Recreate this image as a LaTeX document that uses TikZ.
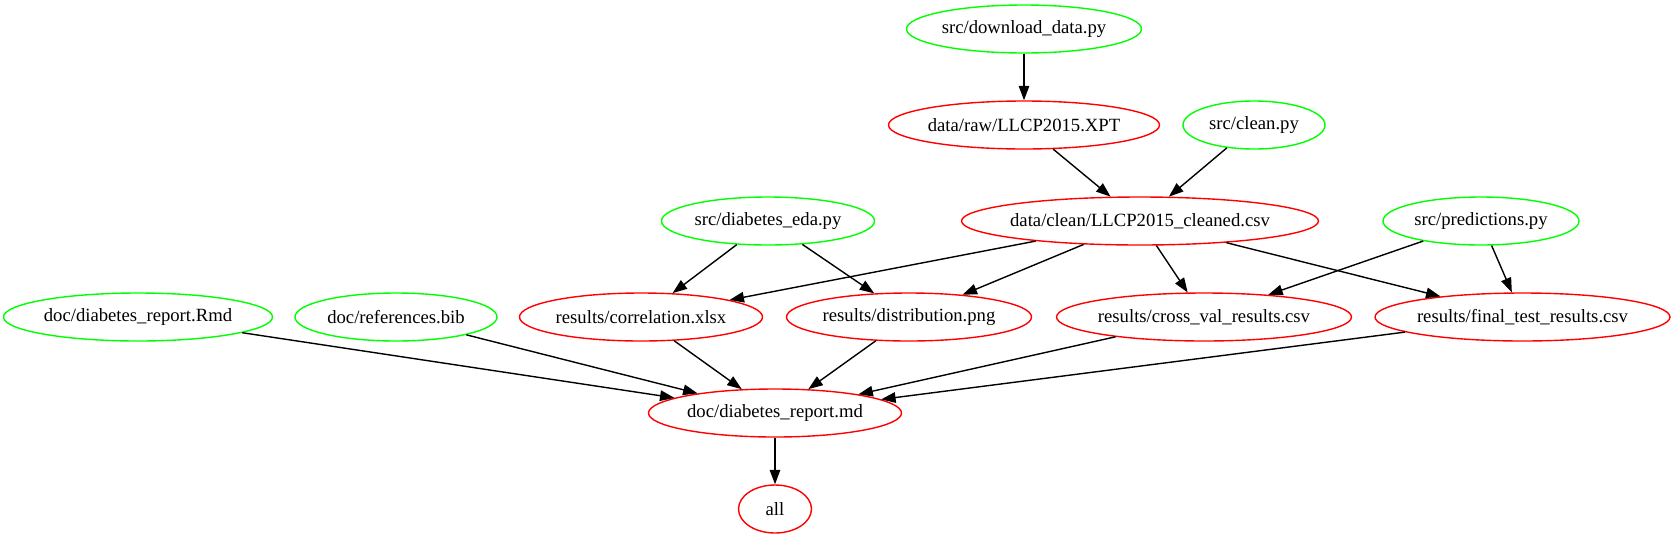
\documentclass[tikz,border=0pt]{standalone}
\usepackage{fontspec}
\setmainfont{Liberation Serif}
\usetikzlibrary{shapes.geometric,arrows.meta}
\definecolor{gvgreen}{RGB}{0,255,0}
\definecolor{gvred}{RGB}{255,0,0}
\newcommand{\lbl}[1]{\makebox[0pt]{#1}}
\tikzset{
  base/.style={ellipse, inner sep=0pt, minimum height=48pt, line width=1.4pt,
    font=\fontsize{18.67pt}{22pt}\selectfont},
  gnode/.style={base, draw=gvgreen},
  rnode/.style={base, draw=gvred},
  edge/.style={line width=1.4pt, -{Triangle[length=14.5pt,width=10.5pt]}}
}
\begin{document}
\begin{tikzpicture}[x=1pt,y=-1pt]
\useasboundingbox (0,0) rectangle (1675,539);
\node[gnode, minimum width=235pt] (dl) at (1024,29) {\lbl{src/download\_data.py}};
\node[rnode, minimum width=271pt] (raw) at (1024,125) {\lbl{data/raw/LLCP2015.XPT}};
\node[gnode, minimum width=142pt] (clean) at (1254,125) {\lbl{src/clean.py}};
\node[rnode, minimum width=357pt] (cleaned) at (1140,221) {\lbl{data/clean/LLCP2015\_cleaned.csv}};
\node[gnode, minimum width=213pt] (eda) at (768,221) {\lbl{src/diabetes\_eda.py}};
\node[gnode, minimum width=196pt] (pred) at (1481,221) {\lbl{src/predictions.py}};
\node[gnode, minimum width=269pt] (rmd) at (138,317) {\lbl{doc/diabetes\_report.Rmd}};
\node[gnode, minimum width=202pt] (bib) at (396,317) {\lbl{doc/references.bib}};
\node[rnode, minimum width=243pt] (corr) at (641,317) {\lbl{results/correlation.xlsx}};
\node[rnode, minimum width=245pt] (dist) at (909,317) {\lbl{results/distribution.png}};
\node[rnode, minimum width=295pt] (cv) at (1204,317) {\lbl{results/cross\_val\_results.csv}};
\node[rnode, minimum width=295pt] (ft) at (1522.5,317) {\lbl{results/final\_test\_results.csv}};
\node[rnode, minimum width=253pt] (md) at (775,413) {\lbl{doc/diabetes\_report.md}};
\node[rnode, minimum width=73pt] (all) at (775,509) {\lbl{all}};
\draw[edge] (dl) -- (raw);
\draw[edge] (raw) -- (cleaned);
\draw[edge] (clean) -- (cleaned);
\draw[edge] (eda) -- (corr);
\draw[edge] (eda) -- (dist);
\draw[edge] (cleaned) -- (corr);
\draw[edge] (cleaned) -- (dist);
\draw[edge] (cleaned) -- (cv);
\draw[edge] (cleaned) -- (ft);
\draw[edge] (pred) -- (cv);
\draw[edge] (pred) -- (ft);
\draw[edge] (rmd) -- (md);
\draw[edge] (bib) -- (md);
\draw[edge] (corr) -- (md);
\draw[edge] (dist) -- (md);
\draw[edge] (cv) -- (md);
\draw[edge] (ft) -- (md);
\draw[edge] (md) -- (all);
\end{tikzpicture}
\end{document}
